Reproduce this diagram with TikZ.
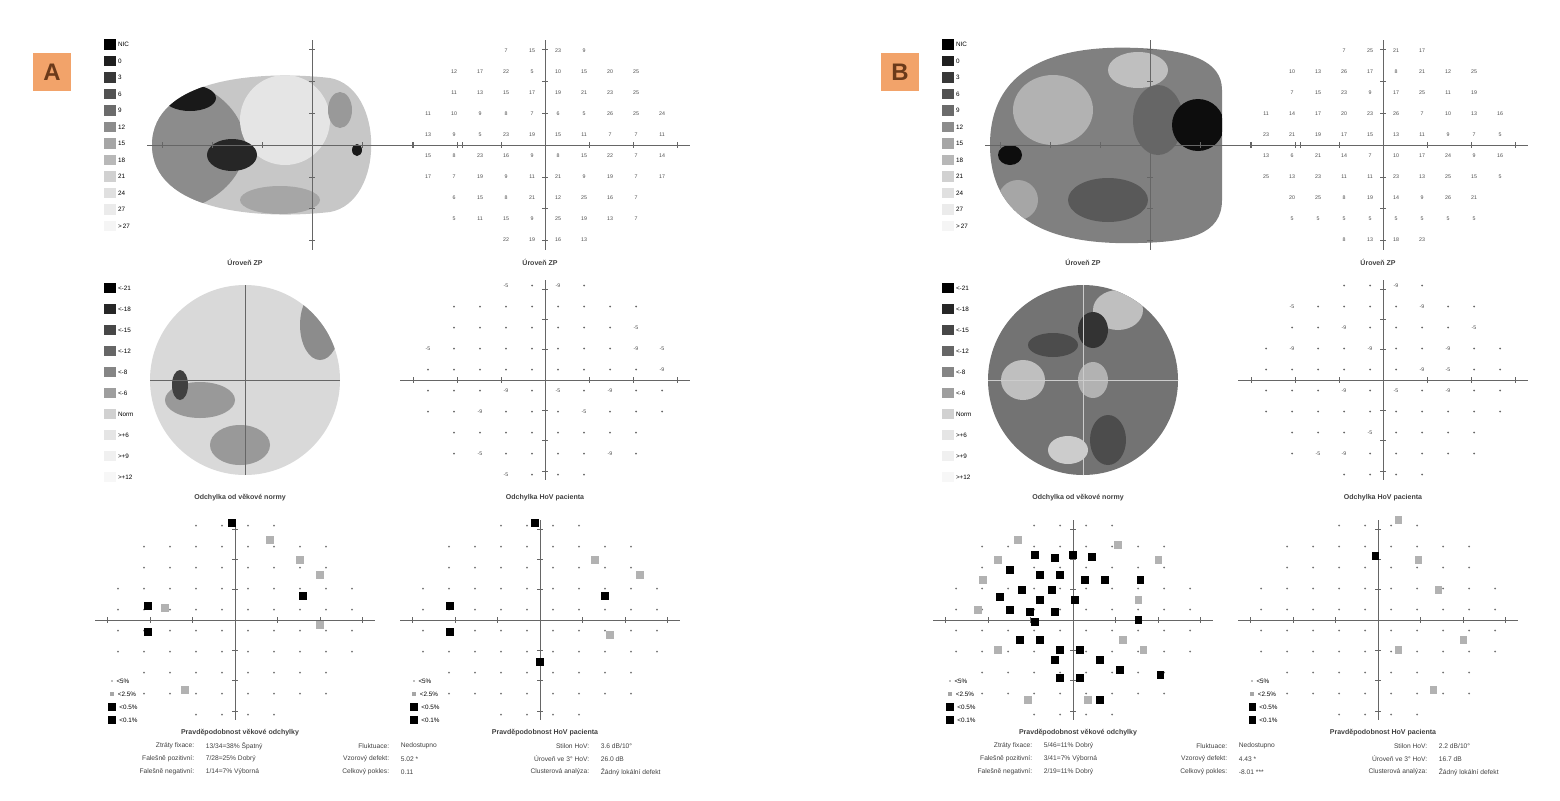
\documentclass[tikz,border=0pt]{standalone}
\usepackage{fontspec}
\setmainfont{Liberation Sans}
\usetikzlibrary{positioning}
\definecolor{tagorange}{HTML}{F2A36A}
\definecolor{tagbrown}{HTML}{6B3A1A}
\tikzset{
  legbox/.style={draw=none, minimum width=16, minimum height=15, inner sep=0pt},
  leglab/.style={anchor=west, font=\fontsize{9}{9}\selectfont, inner sep=1pt},
  captext/.style={font=\fontsize{10}{10}\bfseries\selectfont, text=black!75},
  stat/.style={font=\fontsize{9.5}{10}\selectfont, text=black!75, inner sep=1pt},
  num/.style={font=\fontsize{7.5}{7.5}\selectfont, text=black!70, inner sep=0pt},
  axis/.style={draw=black!60, line width=0.8},
  tag/.style={fill=tagorange, text=tagbrown, minimum size=54, font=\fontsize{34}{34}\bfseries\selectfont, inner sep=0pt},
  psq/.style={minimum size=10, inner sep=0pt},
}
\newcommand{\crossaxes}[4]{% cx cy halfwidth halfheight
  \draw[axis] (#1-#3,#2) -- (#1+#3,#2);
  \draw[axis] (#1,#2-#4) -- (#1,#2+#4);
  \foreach \k in {-3,-2,-1,1,2,3} {
    \draw[axis] (#1+\k*#3/3.3,#2-3) -- (#1+\k*#3/3.3,#2+3);
    \draw[axis] (#1-3,#2+\k*#4/3.3) -- (#1+3,#2+\k*#4/3.3);
  }}
\newcommand{\numgrid}[3]{% cx cy seed
  \foreach \i in {-5,...,4} \foreach \j in {-5,...,4} {
    \pgfmathsetmacro{\px}{(\i+0.5)*26}
    \pgfmathsetmacro{\py}{(\j+0.5)*21}
    \pgfmathsetmacro{\rr}{(\px/130)^2+(\py/105)^2}
    \pgfmathtruncatemacro{\vv}{mod(abs(\i*7+\j*13+#3*\i*\j+#3),22)+5}
    \ifdim\rr pt<1.05pt \node[num] at (#1+\px,#2+\py) {\vv}; \fi
  }}
\newcommand{\dotgrid}[3]{% cx cy seed
  \foreach \i in {-5,...,4} \foreach \j in {-5,...,4} {
    \pgfmathsetmacro{\px}{(\i+0.5)*26}
    \pgfmathsetmacro{\py}{(\j+0.5)*21}
    \pgfmathsetmacro{\rr}{(\px/130)^2+(\py/105)^2}
    \pgfmathtruncatemacro{\vv}{mod(abs(\i*5+\j*11+#3*\i*\j),9)}
    \ifdim\rr pt<1.05pt
      \ifnum\vv<2 \node[num] at (#1+\px,#2+\py) {-\the\numexpr\vv*4+5\relax};
      \else \fill[black!60] (#1+\px,#2+\py) circle (1); \fi
    \fi
  }}
\begin{document}
\begin{tikzpicture}[x=0.5mm, y=-0.5mm]
\useasboundingbox (0,0) rectangle (1560,800);
% ---------------- panel A ----------------
\node (tagA)[tag] at (52,72) {A};
% grey scale legend, level
\foreach \g/\t [count=\n] in {100/NIC,88/0,78/3,68/6,58/9,45/12,35/15,28/18,18/21,12/24,8/27,4/>\,27} {
  \node (la\n)[legbox, fill=black!\g] at (110,28+16.5*\n) {};
  \node[leglab, right=2pt of la\n] {\t};
}
\begin{scope}
  \clip (152,145) .. controls (152,78) and (260,70) .. (330,78) .. controls (385,88) and (385,202) .. (330,212) .. controls (260,220) and (152,212) .. (152,145);
  \fill[black!22] (140,60) rectangle (390,230);
  \fill[black!45] (150,145) ellipse (95 and 70);
  \fill[black!10] (285,120) ellipse (45 and 45);
  \fill[black!90] (190,98) ellipse (26 and 13);
  \fill[black!85] (232,155) ellipse (25 and 16);
  \fill[black!35] (280,200) ellipse (40 and 14);
  \fill[black!40] (340,110) ellipse (12 and 18);
  \fill[black!90] (357,150) ellipse (5 and 6);
\end{scope}
\crossaxes{312}{145}{165}{105}
\node[captext] (capA1) at (245,262) {Úroveň ZP};
\crossaxes{545}{145}{145}{105}
\numgrid{545}{145}{3}
\node[captext] (capA2) at (540,262) {Úroveň ZP};
% deviation legend
\foreach \g/\t [count=\n] in {100/<-21,85/<-18,72/<-15,60/<-12,48/<-8,38/<-6,18/Norm,10/>+6,6/>+9,3/>+12} {
  \node (lb\n)[legbox, fill=black!\g] at (110,267+21*\n) {};
  \node[leglab, right=2pt of lb\n] {\t};
}
\begin{scope}
  \clip (245,380) circle (95);
  \fill[black!15] (140,280) rectangle (350,480);
  \fill[black!45] (320,325) ellipse (20 and 35);
  \fill[black!40] (200,400) ellipse (35 and 18);
  \fill[black!40] (240,445) ellipse (30 and 20);
  \fill[black!75] (180,385) ellipse (8 and 15);
\end{scope}
\draw[axis] (150,380) -- (340,380); \draw[axis] (245,285) -- (245,475);
\node[captext] (capA3) at (240,498) {Odchylka od věkové normy};
\crossaxes{545}{380}{145}{100}
\dotgrid{545}{380}{2}
\node[captext] (capA4) at (545,498) {Odchylka HoV pacienta};
% probability plots
\crossaxes{235}{620}{140}{100}
\crossaxes{540}{620}{140}{100}
\foreach \cx in {235,540} \foreach \i in {-5,...,4} \foreach \j in {-5,...,4} {
  \pgfmathsetmacro{\px}{(\i+0.5)*26}\pgfmathsetmacro{\py}{(\j+0.5)*21}
  \pgfmathsetmacro{\rr}{(\px/130)^2+(\py/105)^2}
  \ifdim\rr pt<1.05pt \fill[black!55] (\cx+\px,620+\py) circle (1); \fi}
\foreach \x/\y in {232/523,148/606,148/632,303/596} \node[psq, fill=black] at (\x,\y) {};
\foreach \x/\y in {535/523,450/606,450/632,605/596,540/662} \node[psq, fill=black] at (\x,\y) {};
\foreach \x/\y in {270/540,320/575,165/608,320/625,185/690,300/560,595/560,610/635,640/575} \node[psq, fill=black!30] at (\x,\y) {};
\foreach \s/\f [count=\n] in {2/black!25,6/black!35,10/black,10/black} {
  \node (pa\n)[psq, minimum size=\s, fill=\f] at (112,668+13*\n) {};
  \node (pb\n)[psq, minimum size=\s, fill=\f] at (414,668+13*\n) {};
}
\node[leglab, right=4pt of pa1] {<5\%}; \node[leglab, right=4pt of pa2] {<2.5\%};
\node[leglab, right=4pt of pa3] {<0.5\%}; \node[leglab, right=4pt of pa4] {<0.1\%};
\node[leglab, right=4pt of pb1] {<5\%}; \node[leglab, right=4pt of pb2] {<2.5\%};
\node[leglab, right=4pt of pb3] {<0.5\%}; \node[leglab, right=4pt of pb4] {<0.1\%};
\node[captext] (capA5) at (240,733) {Pravděpodobnost věkové odchylky};
\node[captext] (capA6) at (545,733) {Pravděpodobnost HoV pacienta};
\node[stat, anchor=east] at (195,746) {Ztráty fixace:};
\node[stat, anchor=east] at (195,759) {Falešně pozitivní:};
\node[stat, anchor=east] at (195,772) {Falešně negativní:};
\node[stat, anchor=west] at (205,746) {13/34=38\% Špatný};
\node[stat, anchor=west] at (205,759) {7/28=25\% Dobrý};
\node[stat, anchor=west] at (205,772) {1/14=7\% Výborná};
\node[stat, anchor=east] at (390,746) {Fluktuace:};
\node[stat, anchor=east] at (390,759) {Vzorový defekt:};
\node[stat, anchor=east] at (390,772) {Celkový pokles:};
\node[stat, anchor=west] at (400,746) {Nedostupno};
\node[stat, anchor=west] at (400,759) {5.02 *};
\node[stat, anchor=west] at (400,772) {0.11};
\node[stat, anchor=east] at (590,746) {Stilon HoV:};
\node[stat, anchor=east] at (590,759) {Úroveň ve 3° HoV:};
\node[stat, anchor=east] at (590,772) {Clusterová analýza:};
\node[stat, anchor=west] at (600,746) {3.6 dB/10°};
\node[stat, anchor=west] at (600,759) {26.0 dB};
\node[stat, anchor=west] at (600,772) {Žádný lokální defekt};
% ---------------- panel B ----------------
\begin{scope}[shift={(838,0)}]
\node (tagB)[tag] at (62,72) {B};
\foreach \g/\t [count=\n] in {100/NIC,88/0,78/3,68/6,58/9,45/12,35/15,28/18,18/21,12/24,8/27,4/>\,27} {
  \node (lc\n)[legbox, fill=black!\g] at (110,28+16.5*\n) {};
  \node[leglab, right=2pt of lc\n] {\t};
}
\begin{scope}
  \clip (152,145) .. controls (152,60) and (230,45) .. (300,48) .. controls (350,50) and (384,60) .. (384,90) -- (384,200) .. controls (384,235) and (350,242) .. (300,243) .. controls (230,245) and (152,230) .. (152,145);
  \fill[black!50] (140,40) rectangle (390,250);
  \fill[black!30] (215,110) ellipse (40 and 35);
  \fill[black!25] (300,70) ellipse (30 and 18);
  \fill[black!65] (270,200) ellipse (40 and 22);
  \fill[black!60] (320,120) ellipse (25 and 35);
  \fill[black!95] (360,125) ellipse (26 and 26);
  \fill[black!95] (172,155) ellipse (12 and 10);
  \fill[black!35] (180,200) ellipse (20 and 20);
\end{scope}
\crossaxes{312}{145}{165}{105}
\node[captext] (capB1) at (245,262) {Úroveň ZP};
\crossaxes{545}{145}{145}{105}
\numgrid{545}{145}{5}
\node[captext] (capB2) at (540,262) {Úroveň ZP};
\foreach \g/\t [count=\n] in {100/<-21,85/<-18,72/<-15,60/<-12,48/<-8,38/<-6,18/Norm,10/>+6,6/>+9,3/>+12} {
  \node (ld\n)[legbox, fill=black!\g] at (110,267+21*\n) {};
  \node[leglab, right=2pt of ld\n] {\t};
}
\begin{scope}
  \clip (245,380) circle (95);
  \fill[black!55] (140,280) rectangle (350,480);
  \fill[black!25] (185,380) ellipse (22 and 20);
  \fill[black!25] (280,310) ellipse (25 and 20);
  \fill[black!20] (230,450) ellipse (20 and 14);
  \fill[black!80] (255,330) ellipse (15 and 18);
  \fill[black!70] (215,345) ellipse (25 and 12);
  \fill[black!70] (270,440) ellipse (18 and 25);
  \fill[black!30] (255,380) ellipse (15 and 18);
\end{scope}
\draw[axis, draw=black!20] (150,380) -- (340,380); \draw[axis, draw=black!20] (245,285) -- (245,475);
\node[captext] (capB3) at (240,498) {Odchylka od věkové normy};
\crossaxes{545}{380}{145}{100}
\dotgrid{545}{380}{4}
\node[captext] (capB4) at (545,498) {Odchylka HoV pacienta};
\crossaxes{235}{620}{140}{100}
\crossaxes{540}{620}{140}{100}
\foreach \cx in {235,540} \foreach \i in {-5,...,4} \foreach \j in {-5,...,4} {
  \pgfmathsetmacro{\px}{(\i+0.5)*26}\pgfmathsetmacro{\py}{(\j+0.5)*21}
  \pgfmathsetmacro{\rr}{(\px/130)^2+(\py/105)^2}
  \ifdim\rr pt<1.05pt \fill[black!55] (\cx+\px,620+\py) circle (1); \fi}
\foreach \x/\y in {197/555,217/558,235/555,254/557,172/570,202/575,222/575,247/580,184/590,214/590,162/597,202/600,237/600,267/580,302/580,172/610,192/612,217/612,182/640,202/640,222/650,242/650,217/660,262/660,242/678,222/678,282/670,322/675,197/622,300/620,262/700} \node[psq, fill=black] at (\x,\y) {};
\foreach \x/\y in {180/540,160/560,145/580,140/610,280/545,300/600,320/560,160/650,285/640,305/650,250/700,190/700,560/520,580/560,600/590,625/640,595/690,560/650} \node[psq, fill=black!30] at (\x,\y) {};
\node[psq, fill=black] at (537,556) {};
\foreach \s/\f [count=\n] in {2/black!25,6/black!35,10/black,10/black} {
  \node (pc\n)[psq, minimum size=\s, fill=\f] at (112,668+13*\n) {};
  \node (pd\n)[psq, minimum size=\s, fill=\f] at (414,668+13*\n) {};
}
\node[leglab, right=4pt of pc1] {<5\%}; \node[leglab, right=4pt of pc2] {<2.5\%};
\node[leglab, right=4pt of pc3] {<0.5\%}; \node[leglab, right=4pt of pc4] {<0.1\%};
\node[leglab, right=4pt of pd1] {<5\%}; \node[leglab, right=4pt of pd2] {<2.5\%};
\node[leglab, right=4pt of pd3] {<0.5\%}; \node[leglab, right=4pt of pd4] {<0.1\%};
\node[captext] (capB5) at (240,733) {Pravděpodobnost věkové odchylky};
\node[captext] (capB6) at (545,733) {Pravděpodobnost HoV pacienta};
\node[stat, anchor=east] at (195,746) {Ztráty fixace:};
\node[stat, anchor=east] at (195,759) {Falešně pozitivní:};
\node[stat, anchor=east] at (195,772) {Falešně negativní:};
\node[stat, anchor=west] at (205,746) {5/46=11\% Dobrý};
\node[stat, anchor=west] at (205,759) {3/41=7\% Výborná};
\node[stat, anchor=west] at (205,772) {2/19=11\% Dobrý};
\node[stat, anchor=east] at (390,746) {Fluktuace:};
\node[stat, anchor=east] at (390,759) {Vzorový defekt:};
\node[stat, anchor=east] at (390,772) {Celkový pokles:};
\node[stat, anchor=west] at (400,746) {Nedostupno};
\node[stat, anchor=west] at (400,759) {4.43 *};
\node[stat, anchor=west] at (400,772) {-8.01 ***};
\node[stat, anchor=east] at (590,746) {Stilon HoV:};
\node[stat, anchor=east] at (590,759) {Úroveň ve 3° HoV:};
\node[stat, anchor=east] at (590,772) {Clusterová analýza:};
\node[stat, anchor=west] at (600,746) {2.2 dB/10°};
\node[stat, anchor=west] at (600,759) {16.7 dB};
\node[stat, anchor=west] at (600,772) {Žádný lokální defekt};
\end{scope}
\end{tikzpicture}
\end{document}
